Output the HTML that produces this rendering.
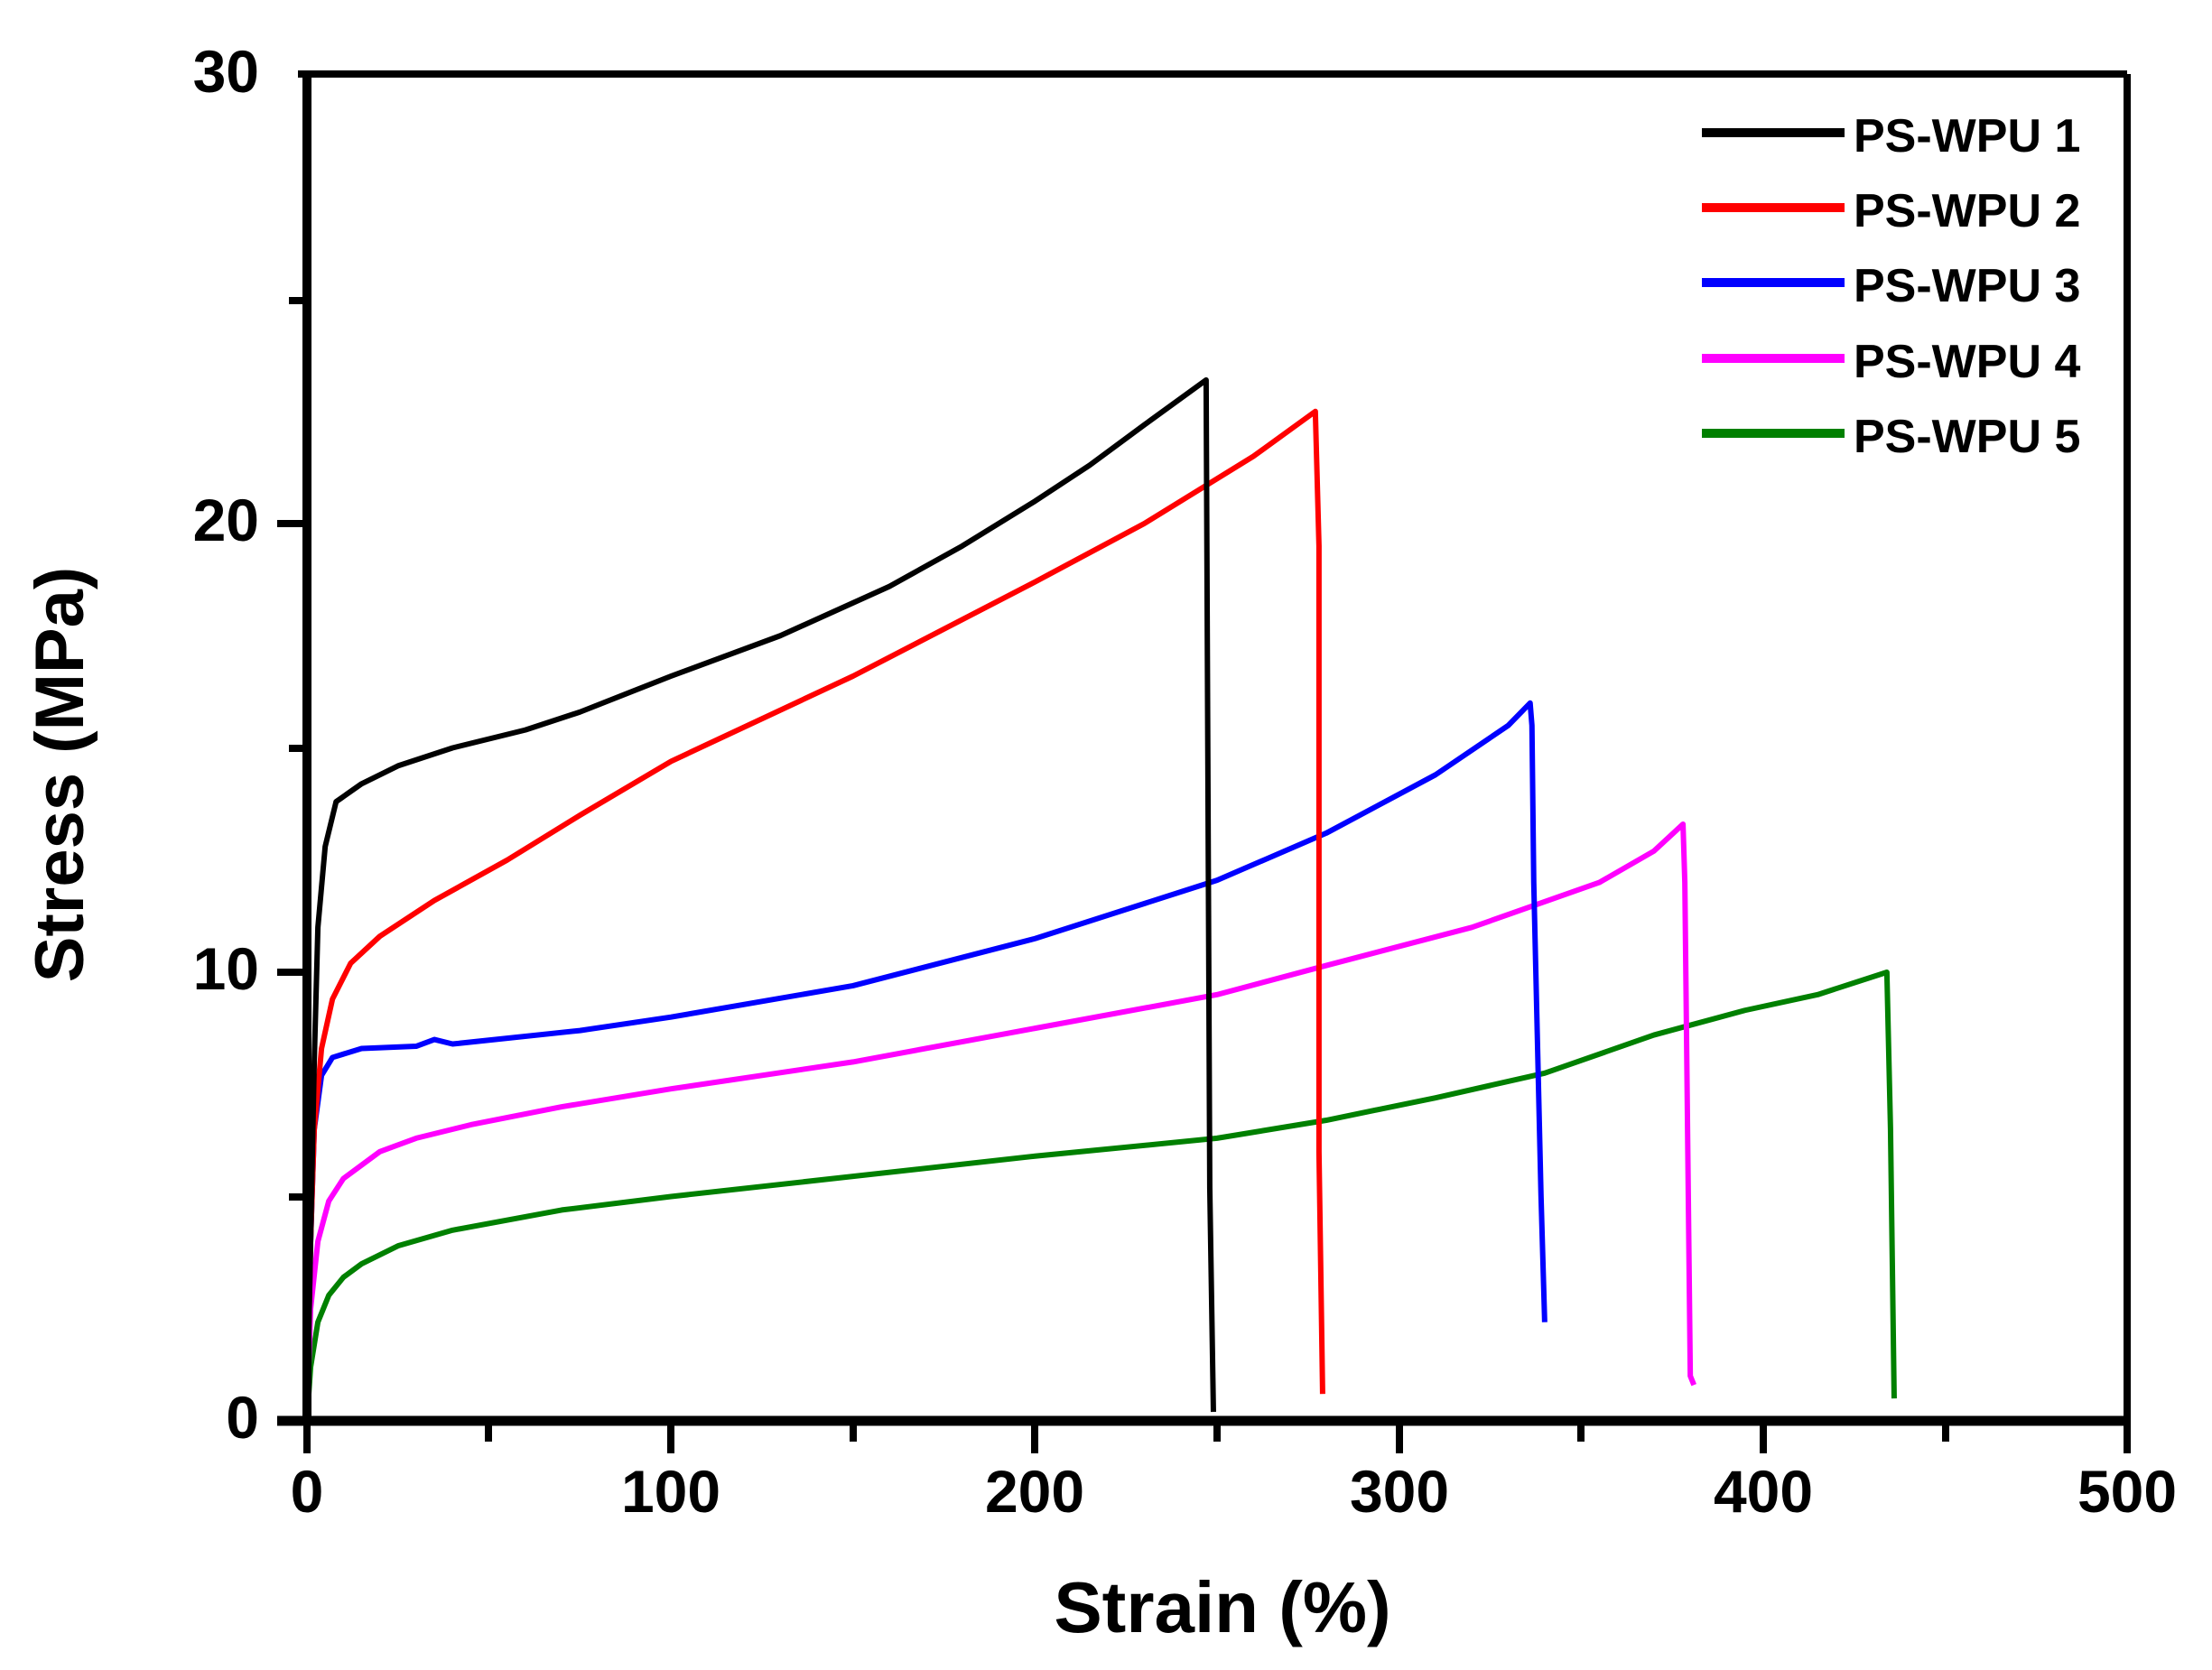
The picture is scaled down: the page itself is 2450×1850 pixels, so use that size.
<!DOCTYPE html>
<html><head><meta charset="utf-8"><style>
html,body{margin:0;padding:0;background:#fff;}
svg{display:block;}
text{font-family:"Liberation Sans",Arial,sans-serif;font-weight:bold;fill:#000;}
</style></head><body>
<svg width="2450" height="1850" viewBox="0 0 2450 1850" xmlns="http://www.w3.org/2000/svg">
<g fill="none" stroke-linejoin="round" stroke-linecap="butt">
<g transform="translate(340,1574) scale(4.032,-49.7)" stroke-width="6">
<polyline vector-effect="non-scaling-stroke" stroke="#008000" points="0,0 1,1.2 3,2.2 6,2.8 10,3.2 15,3.5 25,3.9 40,4.25 70,4.7 100,5 150,5.45 200,5.9 250,6.3 280,6.7 310,7.2 340,7.75 370,8.6 395,9.15 415,9.5 434,10 435,6.5 436,0.5"/>
<polyline vector-effect="non-scaling-stroke" stroke="#ff00ff" points="0,0 1,2.5 3,4 6,4.9 10,5.4 20,6 30,6.3 45,6.6 70,7 100,7.4 150,8 200,8.75 250,9.5 280,10.15 320,11 355,12 370,12.7 378,13.3 378.5,12 380,1 381,0.8"/>
<polyline vector-effect="non-scaling-stroke" stroke="#0000ff" points="0,0 1,4 2,6.5 4,7.7 7,8.1 15,8.3 30,8.35 35,8.5 40,8.4 75,8.7 100,9 150,9.7 200,10.75 250,12.05 280,13.1 310,14.4 330,15.5 336,16 336.5,15.5 337,12 339,5 340,2.2"/>
<polyline vector-effect="non-scaling-stroke" stroke="#ff0000" points="0,0 1,4 2,6.5 4,8.3 7,9.4 12,10.2 20,10.8 35,11.6 55,12.5 75,13.5 100,14.7 150,16.6 200,18.7 230,20 260,21.5 277,22.5 278,19.5 278,6 279,0.6"/>
<polyline vector-effect="non-scaling-stroke" stroke="#000000" points="0,0 1,4 2,8 3,11 5,12.8 8,13.8 15,14.2 25,14.6 40,15 60,15.4 75,15.8 100,16.6 130,17.5 160,18.6 180,19.5 200,20.5 215,21.3 230,22.2 247,23.2 248,5.2 249,0.2"/>
</g>
<line x1="340" y1="82" x2="340" y2="1574" stroke="#000" stroke-width="10"/>
<line x1="330" y1="82" x2="2356" y2="82" stroke="#000" stroke-width="8"/>
<line x1="2356" y1="82" x2="2356" y2="1610" stroke="#000" stroke-width="8"/>
<line x1="307" y1="1574" x2="2360" y2="1574" stroke="#000" stroke-width="11"/>
<g stroke="#000" stroke-width="8">
<line x1="340" y1="1574" x2="340" y2="1610"/>
<line x1="743" y1="1574" x2="743" y2="1610"/>
<line x1="1146" y1="1574" x2="1146" y2="1610"/>
<line x1="1550" y1="1574" x2="1550" y2="1610"/>
<line x1="1953" y1="1574" x2="1953" y2="1610"/>
<line x1="541" y1="1574" x2="541" y2="1597"/>
<line x1="945" y1="1574" x2="945" y2="1597"/>
<line x1="1348" y1="1574" x2="1348" y2="1597"/>
<line x1="1751" y1="1574" x2="1751" y2="1597"/>
<line x1="2155" y1="1574" x2="2155" y2="1597"/>
<line x1="307" y1="1077" x2="340" y2="1077"/>
<line x1="307" y1="580" x2="340" y2="580"/>
<line x1="320" y1="1326" x2="340" y2="1326"/>
<line x1="320" y1="829" x2="340" y2="829"/>
<line x1="320" y1="333" x2="340" y2="333"/>
</g>
<g stroke-width="10">
<line x1="1885" y1="147" x2="2043" y2="147" stroke="#000"/>
<line x1="1885" y1="230" x2="2043" y2="230" stroke="#ff0000"/>
<line x1="1885" y1="313" x2="2043" y2="313" stroke="#0000ff"/>
<line x1="1885" y1="397" x2="2043" y2="397" stroke="#ff00ff"/>
<line x1="1885" y1="480" x2="2043" y2="480" stroke="#008000"/>
</g>
</g>
<g font-size="52">
<text x="2053" y="168">PS-WPU 1</text>
<text x="2053" y="251">PS-WPU 2</text>
<text x="2053" y="334">PS-WPU 3</text>
<text x="2053" y="418">PS-WPU 4</text>
<text x="2053" y="501">PS-WPU 5</text>
</g>
<g font-size="66" text-anchor="end">
<text x="287" y="102">30</text>
<text x="287" y="599">20</text>
<text x="287" y="1096">10</text>
<text x="287" y="1593">0</text>
</g>
<g font-size="66" text-anchor="middle">
<text x="340" y="1675">0</text>
<text x="743" y="1675">100</text>
<text x="1146" y="1675">200</text>
<text x="1550" y="1675">300</text>
<text x="1953" y="1675">400</text>
<text x="2356" y="1675">500</text>
</g>
<text x="1354" y="1808" font-size="80" text-anchor="middle">Strain (%)</text>
<text transform="translate(92,858) rotate(-90)" font-size="76" text-anchor="middle">Stress (MPa)</text>
</svg>
</body></html>
